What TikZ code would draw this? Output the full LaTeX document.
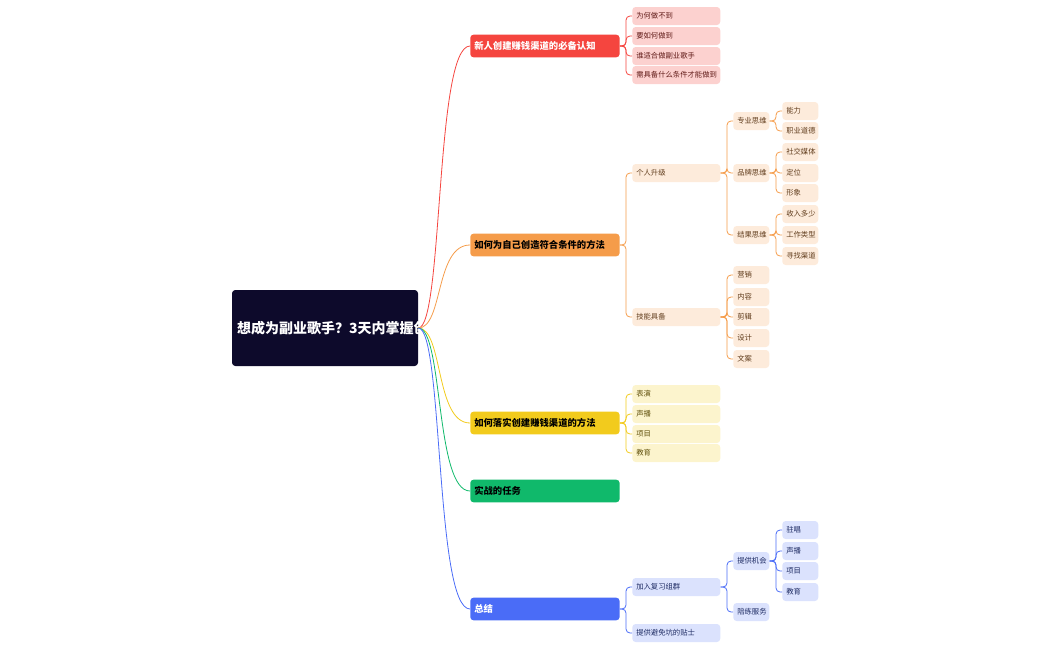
\documentclass[tikz,border=0pt]{standalone}
\usepackage{fontspec}
\setmainfont{Noto Sans CJK SC}
\begin{document}
\begin{tikzpicture}[x=0.75pt,y=-0.75pt,
  box/.style={anchor=west,rounded corners=2.5pt,inner xsep=3pt,inner ysep=0pt,align=left,font=\fontsize{5.5}{6}\selectfont},
  lone/.style={box,text width=106pt,minimum height=17pt,text=white,font=\fontsize{7}{8}\selectfont\bfseries},
  ltwo/.style={box,text width=60pt,minimum height=13.5pt},
  lthree/.style={box,text width=21pt,minimum height=13.5pt},
  red/.style={fill=cR!25,text=cR!40!black},
  ora/.style={fill=cO!20,text=cO!40!black},
  yel/.style={fill=cY!22,text=cY!40!black},
  blu/.style={fill=cB!20,text=cB!40!black},
  conn/.style={line width=0.6pt,rounded corners=3pt}]
\definecolor{cR}{HTML}{F5453F}\definecolor{cO}{HTML}{F59C4A}\definecolor{cY}{HTML}{F2CB1D}
\definecolor{cG}{HTML}{10B96B}\definecolor{cB}{HTML}{4A6CF7}\definecolor{navy}{HTML}{0D0A2B}
\useasboundingbox (0,0) rectangle (1050,650);
\node[fill=navy,rounded corners=2.5pt,minimum width=139.5pt,minimum height=57pt,text width=132pt,align=center,text=white,font=\fontsize{10.5}{14}\selectfont\bfseries] (root) at (325,328) {想成为副业歌手？3天内掌握创建赚钱渠道的诀窍};
\node[lone,fill=cR] (a) at (470,46) {新人创建赚钱渠道的必备认知};
\node[lone,fill=cO,text=black] (b) at (470,245) {如何为自己创造符合条件的方法};
\node[lone,fill=cY,text=black] (c) at (470,423) {如何落实创建赚钱渠道的方法};
\node[lone,fill=cG,text=black] (d) at (470,491) {实战的任务};
\node[lone,fill=cB] (e) at (470,609) {总结};
\foreach \n/\c in {a/cR,b/cO,c/cY,d/cG,e/cB}
  \draw[\c,line width=0.6pt] (root.east) .. controls +(25,0) and +(-35,0) .. (\n.west);
% red
\foreach \i/\y/\t in {1/16/为何做不到,2/36/要如何做到,3/56/谁适合做副业歌手,4/75/需具备什么条件才能做到}{
  \node[ltwo,red] (a\i) at (632,\y) {\t};
  \draw[cR,conn] (a.east) -| ([xshift=-4.5pt]a\i.west) -- (a\i.west);}
% orange
\node[ltwo,ora] (b1) at (632,173) {个人升级};
\node[ltwo,ora] (b2) at (632,317) {技能具备};
\foreach \i in {1,2} \draw[cO,conn] (b.east) -| ([xshift=-4.5pt]b\i.west) -- (b\i.west);
\foreach \i/\y/\t in {1/121/专业思维,2/173/品牌思维,3/235/结果思维}{
  \node[lthree,ora] (b1\i) at (733,\y) {\t};
  \draw[cO,conn] (b1.east) -| ([xshift=-4.5pt]b1\i.west) -- (b1\i.west);}
\foreach \i/\y/\t in {1/275/营销,2/297/内容,3/317/剪辑,4/338/设计,5/359/文案}{
  \node[lthree,ora] (b2\i) at (733,\y) {\t};
  \draw[cO,conn] (b2.east) -| ([xshift=-4.5pt]b2\i.west) -- (b2\i.west);}
\foreach \p/\i/\y/\t in {1/1/111/能力,1/2/131/职业道德,2/1/152/社交媒体,2/2/173/定位,2/3/193/形象,3/1/214/收入多少,3/2/235/工作类型,3/3/256/寻找渠道}{
  \node[lthree,ora] (c\p\i) at (782,\y) {\t};
  \draw[cO,conn] (b1\p.east) -| ([xshift=-4.5pt]c\p\i.west) -- (c\p\i.west);}
% yellow
\foreach \i/\y/\t in {1/394/表演,2/414/声播,3/434/项目,4/453/教育}{
  \node[ltwo,yel] (c\i) at (632,\y) {\t};
  \draw[cY,conn] (c.east) -| ([xshift=-4.5pt]c\i.west) -- (c\i.west);}
% blue
\node[ltwo,blu] (e1) at (632,587) {加入复习组群};
\node[ltwo,blu] (e2) at (632,633) {提供避免坑的贴士};
\foreach \i in {1,2} \draw[cB,conn] (e.east) -| ([xshift=-4.5pt]e\i.west) -- (e\i.west);
\node[lthree,blu] (e11) at (733,561) {提供机会};
\node[lthree,blu] (e12) at (733,612) {陪练服务};
\foreach \i in {1,2} \draw[cB,conn] (e1.east) -| ([xshift=-4.5pt]e1\i.west) -- (e1\i.west);
\foreach \i/\y/\t in {1/530/驻唱,2/551/声播,3/571/项目,4/592/教育}{
  \node[lthree,blu] (f\i) at (782,\y) {\t};
  \draw[cB,conn] (e11.east) -| ([xshift=-4.5pt]f\i.west) -- (f\i.west);}
\end{tikzpicture}
\end{document}
